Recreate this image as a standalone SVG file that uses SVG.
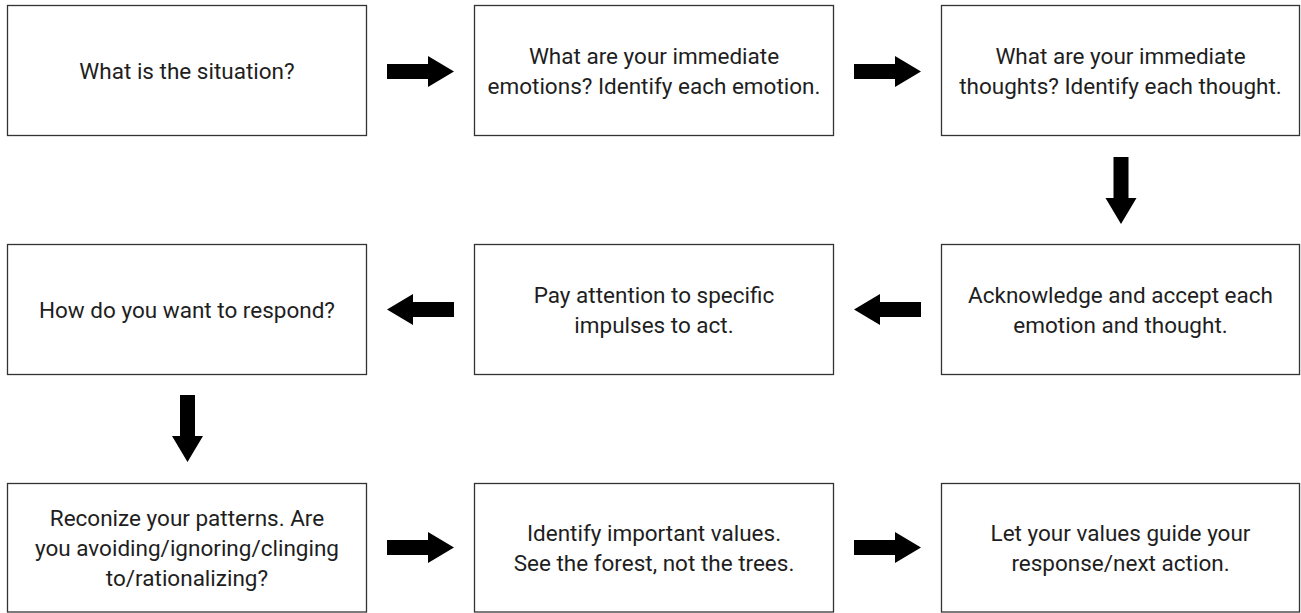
<svg xmlns="http://www.w3.org/2000/svg" width="1301" height="613" viewBox="0 0 1301 613">
<defs>
<style>
.box{fill:#fff;stroke:#333;stroke-width:1.3}
.t{font-family:Roboto,"Liberation Sans",sans-serif;font-size:22.5px;fill:#1e1e1e;text-anchor:middle}
.arr{fill:#000}
</style>
<path id="ar" d="M0,-7.5 H41 V-15.5 L67,0 L41,15.5 V7.5 H0 Z"/>
</defs>
<rect width="1301" height="613" fill="#fff"/>
<g id="n1"><rect class="box" x="7.5" y="5.5" width="359" height="130"/><text class="t" x="187" y="79">What is the situation?</text></g>
<g id="n2"><rect class="box" x="474.5" y="5.5" width="359" height="130"/><text class="t" x="654" y="64">What are your immediate</text><text class="t" x="654" y="94">emotions? Identify each emotion.</text></g>
<g id="n3"><rect class="box" x="941.5" y="5.5" width="358" height="130"/><text class="t" x="1120.5" y="64">What are your immediate</text><text class="t" x="1120.5" y="94">thoughts? Identify each thought.</text></g>
<g id="n4"><rect class="box" x="941.5" y="244.5" width="358" height="130"/><text class="t" x="1120.5" y="303">Acknowledge and accept each</text><text class="t" x="1120.5" y="333">emotion and thought.</text></g>
<g id="n5"><rect class="box" x="474.5" y="244.5" width="359" height="130"/><text class="t" x="654" y="303">Pay attention to specific</text><text class="t" x="654" y="333">impulses to act.</text></g>
<g id="n6"><rect class="box" x="7.5" y="244.5" width="359" height="130"/><text class="t" x="187" y="318">How do you want to respond?</text></g>
<g id="n7"><rect class="box" x="7.5" y="483.5" width="359" height="128.5"/><text class="t" x="187" y="526">Reconize your patterns. Are</text><text class="t" x="187" y="556">you avoiding/ignoring/clinging</text><text class="t" x="187" y="586">to/rationalizing?</text></g>
<g id="n8"><rect class="box" x="474.5" y="483.5" width="359" height="128.5"/><text class="t" x="654" y="541">Identify important values.</text><text class="t" x="654" y="571">See the forest, not the trees.</text></g>
<g id="n9"><rect class="box" x="941.5" y="483.5" width="358" height="128.5"/><text class="t" x="1120.5" y="541">Let your values guide your</text><text class="t" x="1120.5" y="571">response/next action.</text></g>
<g id="connectors" class="arr">
<use href="#ar" transform="translate(387,71.5)"/>
<use href="#ar" transform="translate(854,71.5)"/>
<use href="#ar" transform="translate(1121,157) rotate(90)"/>
<use href="#ar" transform="translate(921,309.5) rotate(180)"/>
<use href="#ar" transform="translate(454,309.5) rotate(180)"/>
<use href="#ar" transform="translate(187.5,395) rotate(90)"/>
<use href="#ar" transform="translate(387,547.5)"/>
<use href="#ar" transform="translate(854,547.5)"/>
</g>
</svg>
